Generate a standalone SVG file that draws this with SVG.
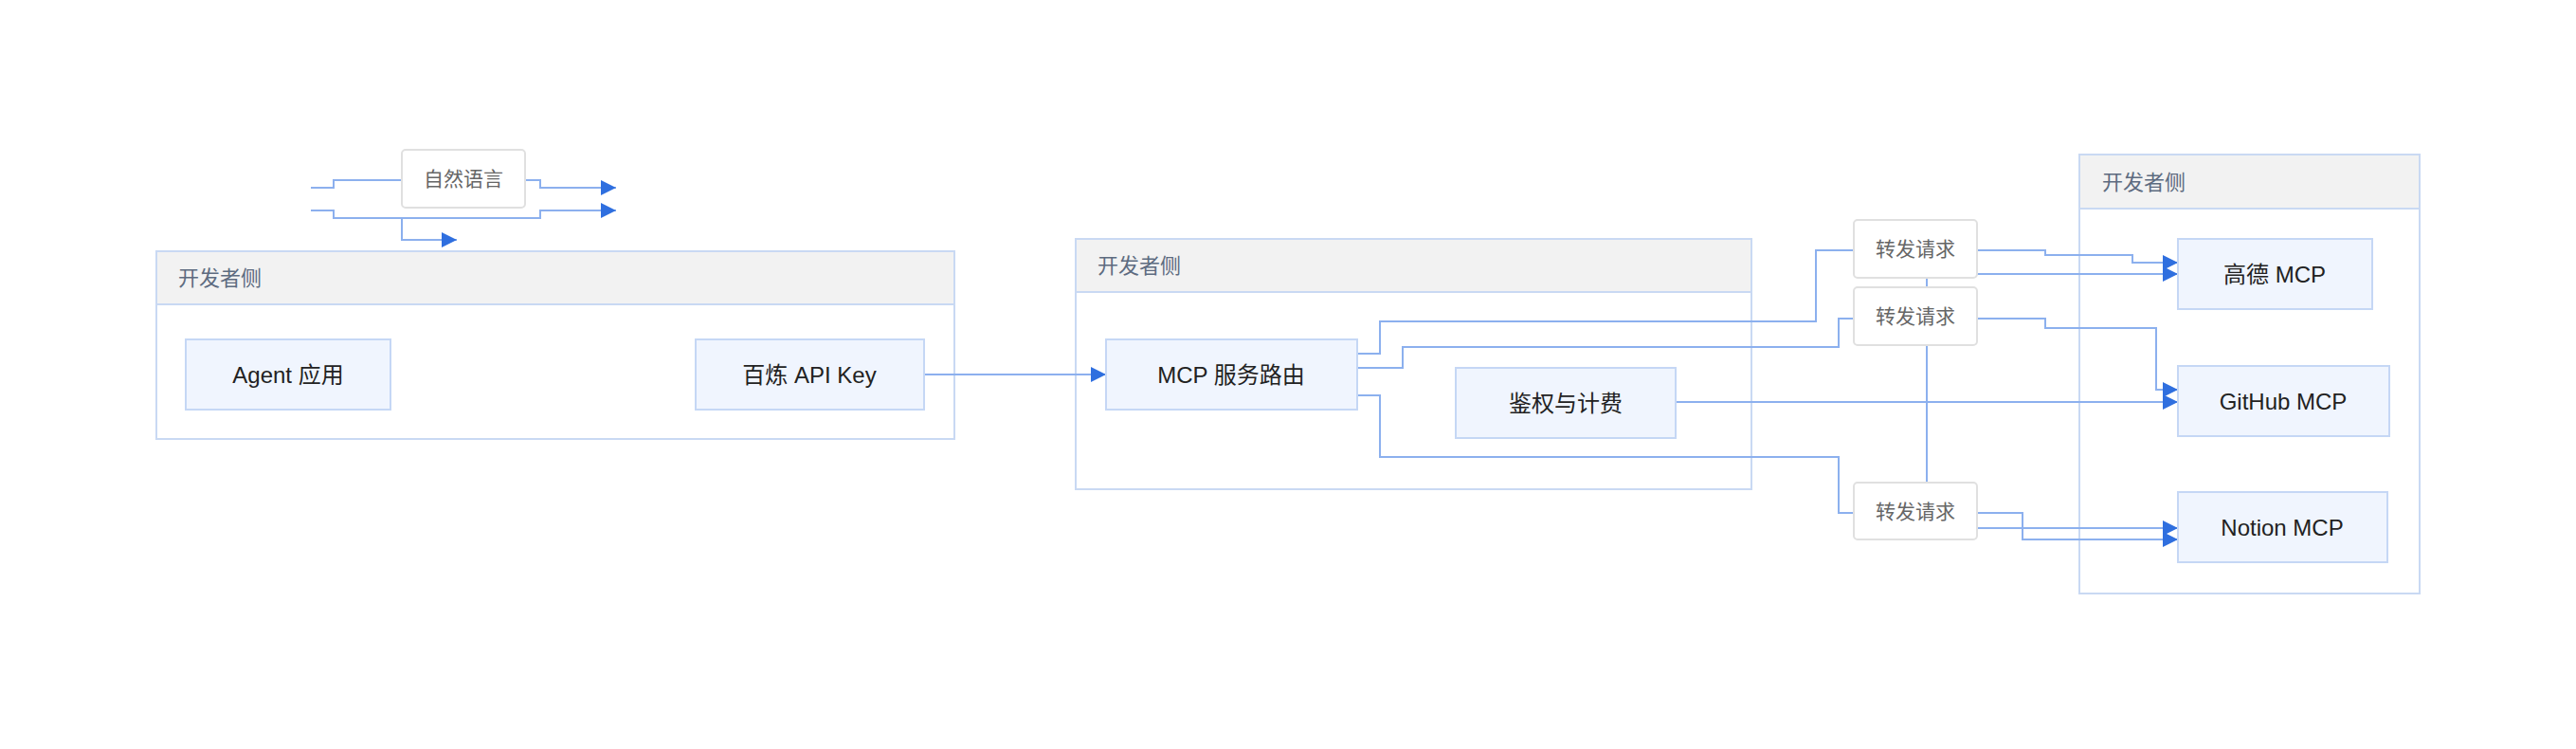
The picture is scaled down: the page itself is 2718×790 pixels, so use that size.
<svg xmlns="http://www.w3.org/2000/svg" width="2718" height="790" viewBox="0 0 2718 790">
<style>
.grp{fill:#fff;stroke:#c9d9f3;stroke-width:2}
.hdr{fill:#f2f2f2;stroke:#c9d9f3;stroke-width:2}
.ht{font-family:"Liberation Sans","Noto Sans CJK SC",sans-serif;font-size:22px;fill:#5d6b80}
.nd{fill:#f0f5fe;stroke:#c5d7f5;stroke-width:2}
.nt{font-family:"Liberation Sans","Noto Sans CJK SC",sans-serif;font-size:24px;fill:#222;text-anchor:middle;dominant-baseline:central}
.lb{fill:#fff;stroke:#e0e0e0;stroke-width:2}
.lt{font-family:"Liberation Sans","Noto Sans CJK SC",sans-serif;font-size:21px;fill:#666;text-anchor:middle;dominant-baseline:central}
.c{fill:none;stroke:#8cb0ee;stroke-width:2}
.a{marker-end:url(#ar)}
</style>
<defs><marker id="ar" markerWidth="10" markerHeight="10" refX="9" refY="5" orient="auto" markerUnits="userSpaceOnUse"><path d="M0,0L10,5L0,10z" fill="#2f6fdf"/></marker>
<marker id="ar2" viewBox="0 0 10 10" markerWidth="16" markerHeight="16" refX="10" refY="5" orient="auto" markerUnits="userSpaceOnUse"><path d="M0,0L10,5L0,10z" fill="#2f6fdf"/></marker></defs>
<g id="g1"><rect class="grp" x="165" y="265" width="842" height="198"/><rect class="hdr" x="165" y="265" width="842" height="56"/><text class="ht" x="188" y="301">开发者侧</text></g>
<g id="g2"><rect class="grp" x="1135" y="252" width="713" height="264"/><rect class="hdr" x="1135" y="252" width="713" height="56"/><text class="ht" x="1158" y="288">开发者侧</text></g>
<g id="g3"><rect class="grp" x="2194" y="163" width="359" height="463"/><rect class="hdr" x="2194" y="163" width="359" height="57"/><text class="ht" x="2218" y="200">开发者侧</text></g>
<g id="connectors">
<path class="c" d="M328,198H352V190H424"/><path class="c" d="M554,190H570V198H650" marker-end="url(#ar2)"/>
<path class="c" d="M328,222H352V230H570V222H650" marker-end="url(#ar2)"/>
<path class="c" d="M424,230V253H482" marker-end="url(#ar2)"/>
<path class="c" d="M975,395H1167" marker-end="url(#ar2)"/>
<path class="c" d="M1432,373H1456V339H1916V264H1956"/>
<path class="c" d="M1432,388H1480V366H1940V336H1956"/>
<path class="c" d="M1432,417H1456V482H1940V541H1956"/>
<path class="c" d="M2086,264H2158V269H2250V277H2298" marker-end="url(#ar2)"/>
<path class="c" d="M2086,289H2298" marker-end="url(#ar2)"/>
<path class="c" d="M2086,336H2158V346H2275V411H2298" marker-end="url(#ar2)"/>
<path class="c" d="M1768,424H2298" marker-end="url(#ar2)"/>
<path class="c" d="M2033,293V303M2033,364V509"/>
<path class="c" d="M2086,541H2134V569H2298" marker-end="url(#ar2)"/>
<path class="c" d="M2086,557H2298" marker-end="url(#ar2)"/>
</g>
<g id="n-nl"><rect class="lb" x="424" y="158" width="130" height="61" rx="4"/><text class="lt" x="489" y="188">自然语言</text></g>
<g id="n-agent"><rect class="nd" x="196" y="358" width="216" height="74"/><text class="nt" x="304" y="395">Agent 应用</text></g>
<g id="n-key"><rect class="nd" x="734" y="358" width="241" height="74"/><text class="nt" x="854" y="395">百炼 API Key</text></g>
<g id="n-router"><rect class="nd" x="1167" y="358" width="265" height="74"/><text class="nt" x="1299" y="395">MCP 服务路由</text></g>
<g id="n-auth"><rect class="nd" x="1536" y="388" width="232" height="74"/><text class="nt" x="1652" y="425">鉴权与计费</text></g>
<g id="n-f1"><rect class="lb" x="1956" y="232" width="130" height="61" rx="4"/><text class="lt" x="2021" y="262">转发请求</text></g>
<g id="n-f2"><rect class="lb" x="1956" y="303" width="130" height="61" rx="4"/><text class="lt" x="2021" y="333">转发请求</text></g>
<g id="n-f3"><rect class="lb" x="1956" y="509" width="130" height="60" rx="4"/><text class="lt" x="2021" y="539">转发请求</text></g>
<g id="n-gaode"><rect class="nd" x="2298" y="252" width="205" height="74"/><text class="nt" x="2400" y="289">高德 MCP</text></g>
<g id="n-github"><rect class="nd" x="2298" y="386" width="223" height="74"/><text class="nt" x="2409" y="423">GitHub MCP</text></g>
<g id="n-notion"><rect class="nd" x="2298" y="519" width="221" height="74"/><text class="nt" x="2408" y="556">Notion MCP</text></g>
</svg>
